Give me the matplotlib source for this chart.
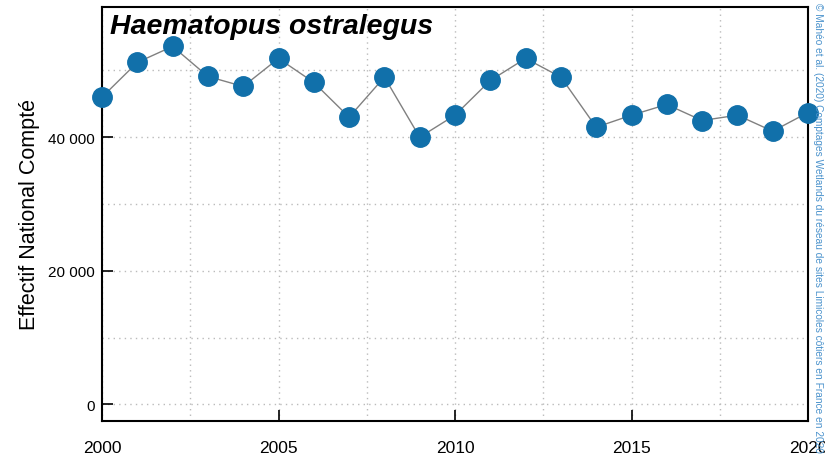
import matplotlib
matplotlib.use('Agg')
import matplotlib.pyplot as plt
from matplotlib.ticker import MultipleLocator, FuncFormatter

plt.rcParams['font.family'] = ['Liberation Sans', 'DejaVu Sans']

years = list(range(2000, 2021))
counts = [46000, 51200, 53600, 49100, 47600, 51800, 48200, 43000, 49000, 40000,
          43300, 48500, 51800, 49000, 41500, 43300, 44900, 42500, 43300, 40900, 43700]

title = 'Haematopus ostralegus'
ylabel = 'Effectif National Compté'
credit = '© Mahéo et al. (2020) Comptages Wetlands du réseau de sites Limicoles côtiers en France en 2020'

fig = plt.figure(figsize=(8.25, 4.56), dpi=100)
ax = fig.add_axes([102 / 825, 1 - 422 / 456, 706 / 825, 414 / 456])

ax.plot(years, counts, color='#808080', lw=1, zorder=2, clip_on=False)
ax.plot(years, counts, 'o', color='#1170aa', ms=14, zorder=3, clip_on=False)

ax.set_xlim(2000, 2020)
ax.set_ylim(-2500, 59500)
ax.xaxis.set_major_locator(MultipleLocator(5))
ax.xaxis.set_minor_locator(MultipleLocator(2.5))
ax.yaxis.set_major_locator(MultipleLocator(20000))
ax.yaxis.set_minor_locator(MultipleLocator(10000))
ax.yaxis.set_major_formatter(FuncFormatter(lambda v, p: f'{int(v):,}'.replace(',', ' ')))

ax.grid(True, which='both', ls=(0, (1, 3)), color='#bbbbbb', lw=1)
ax.tick_params(which='major', direction='in', length=8, width=1.2)
ax.tick_params(which='minor', length=0)
ax.tick_params(axis='x', pad=14, labelsize=12.5)
ax.tick_params(axis='y', pad=5, labelsize=11)
for s in ax.spines.values():
    s.set_linewidth(1.5)

ax.set_ylabel(ylabel, fontsize=15.5, labelpad=6)
ax.text(0.012, 0.985, title, transform=ax.transAxes, fontsize=20.5, fontweight='bold',
        style='italic', va='top', ha='left')
fig.text(818 / 825, 0.5, credit, rotation=-90, va='center', ha='center',
         fontsize=7.3, color='#4a92cc')

fig.savefig('out.png', dpi=100)
